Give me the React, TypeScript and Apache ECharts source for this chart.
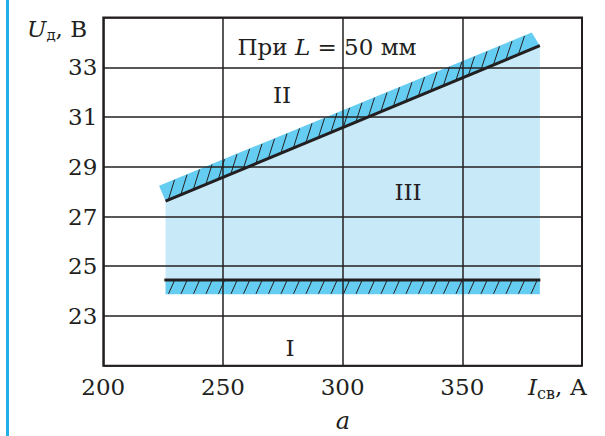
import React, { useEffect, useRef } from "react";
import * as echarts from "echarts";

// ---- data ----
const xMin = 200;
const xMax = 400;
const xStep = 50;
const yMin = 21;
const yMax = 35;
const yStep = 2;
const xTickLabels = ["200", "250", "300", "350"];
const yTickLabels = ["23", "25", "27", "29", "31", "33"];

// upper boundary line (between II and III)
const upperLine = [
  [226, 27.62],
  [382.4, 33.87],
];
// hatched band above the upper line: lower-left, lower-right, upper-right, upper-left
const upperBand = [226, 27.62, 382.4, 33.87, 379, 34.4, 223.3, 28.24];
// lower boundary line (between I and III)
const lowerLine = [
  [225.5, 24.45],
  [382.6, 24.45],
];
// hatched band below the lower line
const lowerBand = [226, 23.87, 382.4, 23.87, 382.4, 24.45, 226, 24.45];
// region III fill
const regionIII = [226, 24.45, 382.4, 24.45, 382.4, 33.87, 226, 27.62];

const INK = "#231f20";
const FONT = "DejaVu Serif";
const FS = 23;

function polyPoints(api: any) {
  const pts: number[][] = [];
  for (let i = 0; i < 4; i++) {
    pts.push(api.coord([api.value(2 * i), api.value(2 * i + 1)]));
  }
  return pts;
}

function renderFill(params: any, api: any) {
  return {
    type: "polygon",
    shape: { points: polyPoints(api) },
    style: { fill: "#c7e9f8" },
  };
}

function renderBand(params: any, api: any) {
  const p = polyPoints(api); // ll, lr, ur, ul
  const ll = p[0], lr = p[1], ur = p[2], ul = p[3];
  const yLow = (x: number) => ll[1] + ((x - ll[0]) * (lr[1] - ll[1])) / (lr[0] - ll[0]);
  const yUp = (x: number) => ul[1] + ((x - ul[0]) * (ur[1] - ul[1])) / (ur[0] - ul[0]);
  const children: any[] = [
    {
      type: "polygon",
      shape: { points: p },
      style: { fill: "#66cdf2" },
    },
  ];
  const dx = 6;
  const step = 12.5;
  for (let x = ll[0] + 3; x <= lr[0]; x += step) {
    const tx = x + dx;
    if (tx < ul[0] || tx > ur[0]) continue;
    children.push({
      type: "line",
      shape: { x1: x, y1: yLow(x) - 0.5, x2: tx, y2: yUp(tx) + 0.5 },
      style: { stroke: INK, lineWidth: 1 },
    });
  }
  return { type: "group", children };
}

export default function App() {
  const ref = useRef<HTMLDivElement>(null);
  useEffect(() => {
    document.body.style.margin = "0";
    const chart = echarts.init(ref.current!, null, { renderer: "svg" });
    const textStyle = { fill: INK, fontFamily: FONT, fontSize: FS };
    chart.setOption({
      animation: false,
      grid: {
        left: 103.3,
        right: 23,
        top: 17.6,
        bottom: 70.3,
        show: true,
        borderColor: INK,
        borderWidth: 2,
        backgroundColor: "transparent",
      },
      xAxis: {
        type: "value",
        min: xMin,
        max: xMax,
        interval: xStep,
        z: 3,
        axisLine: { show: false },
        axisTick: { show: false },
        axisLabel: {
          margin: 10,
          color: INK,
          fontFamily: FONT,
          fontSize: FS,
          formatter: (v: number) => (xTickLabels.includes(String(v)) ? String(v) : ""),
        },
        splitLine: { show: true, lineStyle: { color: INK, width: 1.5 } },
      },
      yAxis: {
        type: "value",
        min: yMin,
        max: yMax,
        interval: yStep,
        z: 3,
        axisLine: { show: false },
        axisTick: { show: false },
        axisLabel: {
          margin: 6,
          color: INK,
          fontFamily: FONT,
          fontSize: FS,
          formatter: (v: number) => (yTickLabels.includes(String(v)) ? String(v) : ""),
        },
        splitLine: { show: true, lineStyle: { color: INK, width: 1.5 } },
      },
      series: [
        {
          type: "custom",
          z: 1,
          renderItem: renderFill,
          data: [regionIII],
          silent: true,
        },
        {
          type: "custom",
          z: 1,
          renderItem: renderBand,
          data: [upperBand, lowerBand],
          silent: true,
        },
        {
          type: "line",
          z: 4,
          data: upperLine,
          symbol: "none",
          lineStyle: { color: INK, width: 3 },
          silent: true,
        },
        {
          type: "line",
          z: 4,
          data: lowerLine,
          symbol: "none",
          lineStyle: { color: INK, width: 3 },
          silent: true,
        },
      ],
      graphic: [
        {
          type: "rect",
          z: 10,
          shape: { x: 6, y: 0, width: 3, height: 436 },
          style: { fill: "#1fb0ea" },
        },
        {
          type: "text",
          z: 10,
          x: 27,
          y: 29,
          style: {
            text: "{u|U}{d|д}{n|, В}",
            fill: INK,
            fontFamily: FONT,
            fontSize: FS,
            verticalAlign: "middle",
            rich: {
              u: { fontStyle: "italic", fontSize: FS, fontFamily: FONT, fill: INK },
              d: { fontSize: 15, fontFamily: FONT, fill: INK, padding: [12, 0, 0, 0] },
              n: { fontSize: FS, fontFamily: FONT, fill: INK },
            },
          },
        },
        {
          type: "text",
          z: 10,
          x: 327,
          y: 47,
          style: {
            text: "{n|При }{i|L}{n| = 50 мм}",
            align: "center",
            verticalAlign: "middle",
            fill: INK,
            fontFamily: FONT,
            fontSize: 23,
            rich: {
              n: { fontSize: 23, fontFamily: FONT, fill: INK },
              i: { fontSize: 23, fontFamily: FONT, fontStyle: "italic", fill: INK },
            },
          },
        },
        {
          type: "text",
          z: 10,
          x: 282,
          y: 95,
          style: { ...textStyle, text: "II", align: "center", verticalAlign: "middle" },
        },
        {
          type: "text",
          z: 10,
          x: 408,
          y: 192,
          style: { ...textStyle, text: "III", align: "center", verticalAlign: "middle" },
        },
        {
          type: "text",
          z: 10,
          x: 290,
          y: 348,
          style: { ...textStyle, text: "I", align: "center", verticalAlign: "middle" },
        },
        {
          type: "text",
          z: 10,
          x: 528,
          y: 387,
          style: {
            text: "{i|I}{d|св}{n|, А}",
            verticalAlign: "middle",
            fill: INK,
            fontFamily: FONT,
            fontSize: FS,
            rich: {
              i: { fontStyle: "italic", fontSize: FS, fontFamily: FONT, fill: INK },
              d: { fontSize: 16, fontFamily: FONT, fill: INK, padding: [12, 0, 0, 0] },
              n: { fontSize: FS, fontFamily: FONT, fill: INK },
            },
          },
        },
        {
          type: "text",
          z: 10,
          x: 343,
          y: 421,
          style: {
            ...textStyle,
            text: "a",
            fontStyle: "italic",
            fontSize: 24,
            align: "center",
            verticalAlign: "middle",
          },
        },
      ],
    });
    return () => chart.dispose();
  }, []);
  return <div ref={ref} style={{ width: 605, height: 436 }} />;
}
